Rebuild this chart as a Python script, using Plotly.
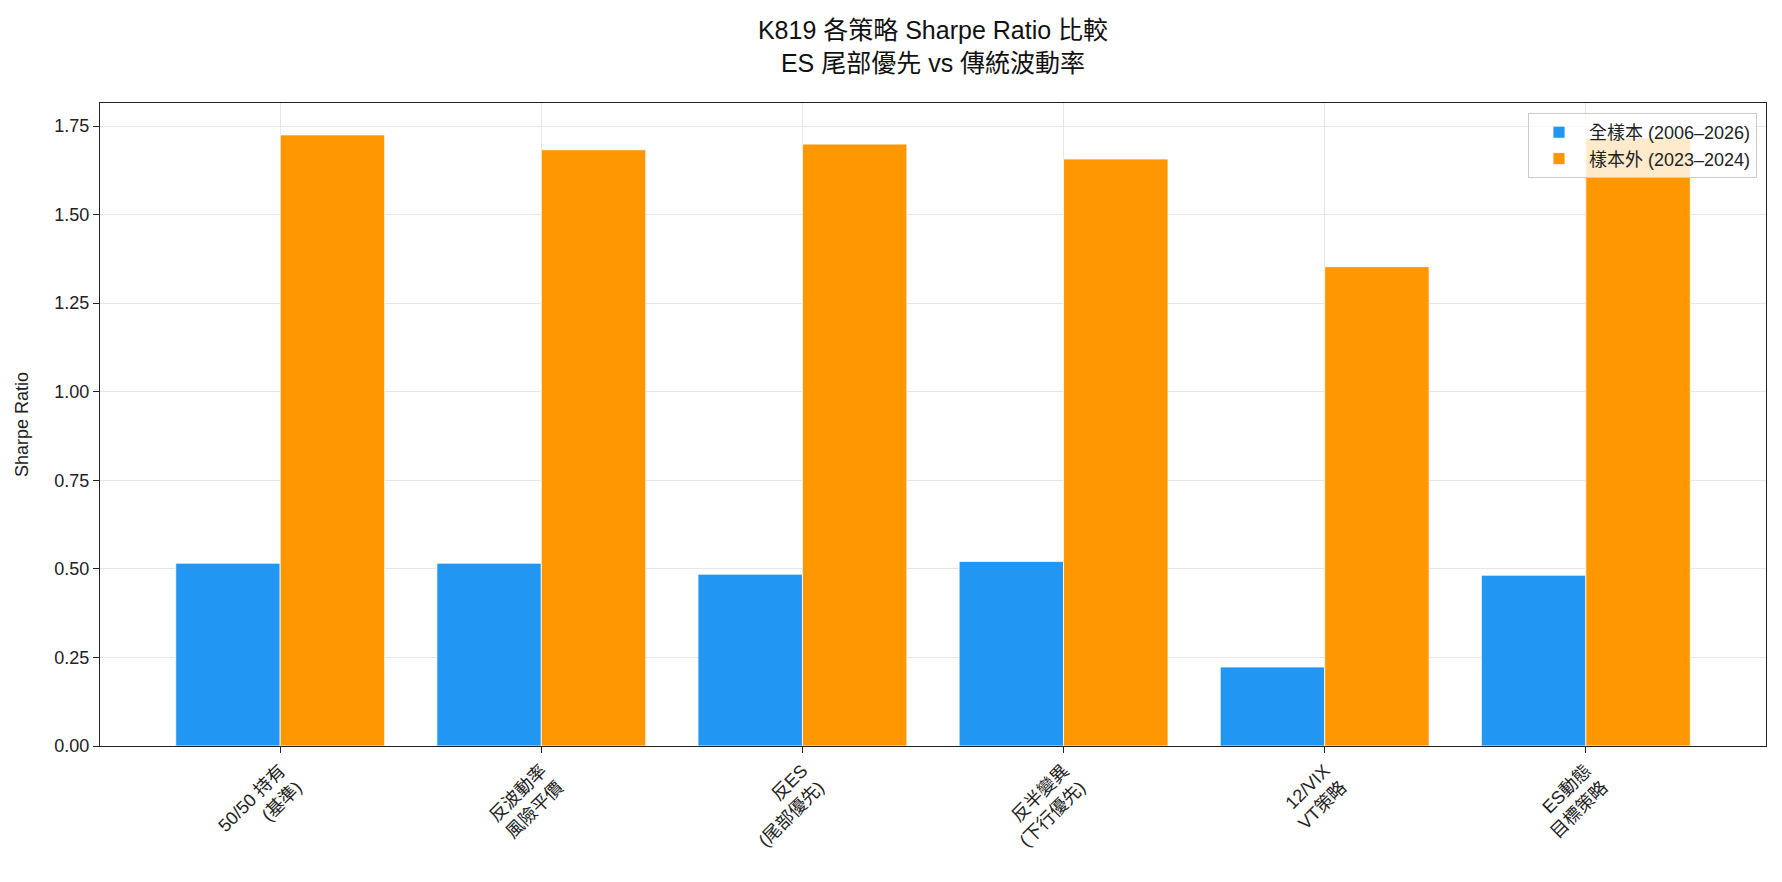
import plotly.graph_objects as go

categories = ["50/50 持有<br>(基準)", "反波動率<br>風險平價", "反ES<br>(尾部優先)",
              "反半變異<br>(下行優先)", "12/VIX<br>VT策略", "ES動態<br>目標策略"]
full_sample = [0.516, 0.516, 0.485, 0.521, 0.223, 0.482]
out_sample = [1.725, 1.683, 1.699, 1.657, 1.353, 1.716]
series_names = ["全樣本 (2006–2026)", "樣本外 (2023–2024)"]
y_ticks = [0, 0.25, 0.5, 0.75, 1.0, 1.25, 1.5, 1.75]

FONT = "Liberation Sans, Arial, Noto Sans CJK TC, sans-serif"
x_idx = list(range(len(categories)))

fig = go.Figure()
fig.add_trace(go.Bar(x=x_idx, y=full_sample, name=series_names[0],
                     marker=dict(color="#2196F3", line=dict(color="white", width=0.8))))
fig.add_trace(go.Bar(x=x_idx, y=out_sample, name=series_names[1],
                     marker=dict(color="#FF9800", line=dict(color="white", width=0.8))))

fig.update_layout(
    width=1782, height=882,
    margin=dict(l=100, r=16, t=103, b=136),
    paper_bgcolor="white", plot_bgcolor="white",
    font=dict(family=FONT, size=18, color="#222"),
    barmode="group", bargap=0.2, bargroupgap=0,
    title=dict(text="K819 各策略 Sharpe Ratio 比較<br>ES 尾部優先 vs 傳統波動率",
               x=0.5, xref="paper", xanchor="center",
               y=1 - 39 / 882, yref="container", yanchor="middle",
               font=dict(size=25, color="#111")),
    legend=dict(x=1 - 9 / 1666, y=1 - 10 / 643, xanchor="right", yanchor="top",
                bgcolor="rgba(255,255,255,0.8)", bordercolor="#cccccc", borderwidth=1,
                font=dict(size=18), itemwidth=50),
    showlegend=True,
)
fig.update_xaxes(
    range=[-0.69, len(categories) - 1 + 0.69],
    tickmode="array", tickvals=x_idx, ticktext=categories, tickangle=-45,
    showgrid=True, gridcolor="#e6e6e6", gridwidth=1,
    showline=True, linecolor="#222", linewidth=1.3, mirror=True,
    ticks="outside", ticklen=6, tickcolor="#222", zeroline=False,
    tickfont=dict(size=18), automargin=False,
)
fig.update_yaxes(
    range=[0, 1.815], tickmode="array", tickvals=y_ticks, tickformat=".2f",
    showgrid=True, gridcolor="#e6e6e6", gridwidth=1,
    showline=True, linecolor="#222", linewidth=1.3, mirror=True,
    ticks="outside", ticklen=6, tickcolor="#222", zeroline=False,
    title=dict(text="Sharpe Ratio", standoff=20, font=dict(size=18)),
    tickfont=dict(size=18), automargin=False,
)

fig.write_html("out.html")
